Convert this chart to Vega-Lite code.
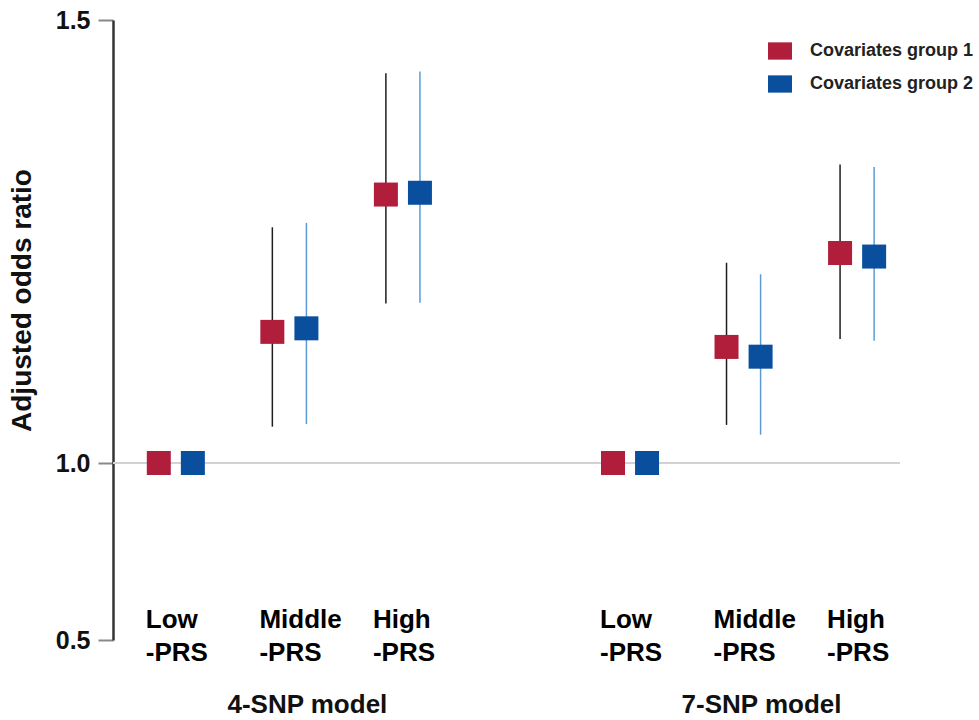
{
  "$schema": "https://vega.github.io/schema/vega-lite/v6.json",
  "width": 787,
  "height": 620,
  "autosize": {"type": "none"},
  "padding": {"left": 113, "top": 20, "right": 79, "bottom": 80},
  "background": "white",
  "config": {
    "view": {"stroke": null},
    "font": "Liberation Sans",
    "axis": {"labelFont": "Liberation Sans", "titleFont": "Liberation Sans"},
    "legend": {"labelFont": "Liberation Sans"},
    "text": {"font": "Liberation Sans"}
  },
  "data": {
    "values": [
      {"cat": "4-SNP Low", "group": "Covariates group 1", "or": 1.0, "lo": null, "hi": null},
      {"cat": "4-SNP Low", "group": "Covariates group 2", "or": 1.0, "lo": null, "hi": null},
      {"cat": "4-SNP Middle", "group": "Covariates group 1", "or": 1.148, "lo": 1.041, "hi": 1.266},
      {"cat": "4-SNP Middle", "group": "Covariates group 2", "or": 1.152, "lo": 1.044, "hi": 1.271},
      {"cat": "4-SNP High", "group": "Covariates group 1", "or": 1.303, "lo": 1.180, "hi": 1.440},
      {"cat": "4-SNP High", "group": "Covariates group 2", "or": 1.305, "lo": 1.181, "hi": 1.442},
      {"cat": "7-SNP Low", "group": "Covariates group 1", "or": 1.0, "lo": null, "hi": null},
      {"cat": "7-SNP Low", "group": "Covariates group 2", "or": 1.0, "lo": null, "hi": null},
      {"cat": "7-SNP Middle", "group": "Covariates group 1", "or": 1.131, "lo": 1.043, "hi": 1.226},
      {"cat": "7-SNP Middle", "group": "Covariates group 2", "or": 1.120, "lo": 1.032, "hi": 1.213},
      {"cat": "7-SNP High", "group": "Covariates group 1", "or": 1.237, "lo": 1.140, "hi": 1.337},
      {"cat": "7-SNP High", "group": "Covariates group 2", "or": 1.233, "lo": 1.138, "hi": 1.334}
    ]
  },
  "layer": [
    {
      "data": {"values": [{"ref": 1}]},
      "mark": {"type": "rule", "color": "#d2d2d2", "strokeWidth": 2},
      "encoding": {"y": {"field": "ref", "type": "quantitative"}}
    },
    {
      "transform": [{"filter": "datum.lo != null && datum.group == 'Covariates group 1'"}],
      "mark": {"type": "rule", "strokeWidth": 1.5, "color": "#1e1e1e"},
      "encoding": {
        "x": {
          "field": "cat", "type": "nominal", "title": null,
          "scale": {"type": "band", "domain": ["4-SNP Low", "4-SNP Middle", "4-SNP High", " ", "7-SNP Low", "7-SNP Middle", "7-SNP High"], "paddingInner": 0.4, "paddingOuter": 0.1656, "align": 0.765, "round": false}
        },
        "xOffset": {"field": "group", "type": "nominal", "scale": {"domain": ["Covariates group 1", "Covariates group 2"], "paddingInner": 0, "paddingOuter": 0}},
        "y": {"field": "lo", "type": "quantitative"},
        "y2": {"field": "hi"}
      }
    },
    {
      "transform": [{"filter": "datum.lo != null && datum.group == 'Covariates group 2'"}],
      "mark": {"type": "rule", "strokeWidth": 1.5, "color": "#5b9bd5"},
      "encoding": {
        "x": {
          "field": "cat", "type": "nominal", "title": null,
          "scale": {"type": "band", "domain": ["4-SNP Low", "4-SNP Middle", "4-SNP High", " ", "7-SNP Low", "7-SNP Middle", "7-SNP High"], "paddingInner": 0.4, "paddingOuter": 0.1656, "align": 0.765, "round": false}
        },
        "xOffset": {"field": "group", "type": "nominal", "scale": {"domain": ["Covariates group 1", "Covariates group 2"], "paddingInner": 0, "paddingOuter": 0}},
        "y": {"field": "lo", "type": "quantitative"},
        "y2": {"field": "hi"}
      }
    },
    {
      "mark": {"type": "square", "size": 576, "opacity": 1, "filled": true, "strokeWidth": 0},
      "encoding": {
        "x": {
          "field": "cat", "type": "nominal", "title": null,
          "scale": {"type": "band", "domain": ["4-SNP Low", "4-SNP Middle", "4-SNP High", " ", "7-SNP Low", "7-SNP Middle", "7-SNP High"], "paddingInner": 0.4, "paddingOuter": 0.1656, "align": 0.765, "round": false},
          "axis": {
            "title": null, "domain": false, "ticks": false, "grid": false,
            "labelAngle": 0, "labelAlign": "left", "labelBaseline": "top", "labelOffset": -30, "labelPadding": -34,
            "labelFontSize": 26, "labelFontWeight": "bold", "labelColor": "#000", "labelLineHeight": 33,
            "labelOverlap": false, "labelBound": false,
            "labelExpr": "datum.value == ' ' ? '' : [split(datum.value, ' ')[1], '-PRS']"
          }
        },
        "xOffset": {"field": "group", "type": "nominal", "scale": {"domain": ["Covariates group 1", "Covariates group 2"], "paddingInner": 0, "paddingOuter": 0}},
        "y": {
          "field": "or", "type": "quantitative",
          "scale": {"domain": [0.5, 1, 1.5], "range": [620, 443, 0], "zero": false, "nice": false},
          "axis": {
            "title": "Adjusted odds ratio", "values": [0.5, 1, 1.5], "format": ".1f", "grid": false,
            "domainColor": "#333", "domainWidth": 2.5, "tickColor": "#888", "tickWidth": 2, "tickSize": 15,
            "labelFontSize": 25, "labelFontWeight": "bold", "labelColor": "#111", "labelPadding": 8,
            "titleFontSize": 28, "titleFontWeight": "bold", "titleColor": "#111", "titlePadding": 19, "titleY": 280
          }
        },
        "color": {
          "field": "group", "type": "nominal",
          "scale": {"domain": ["Covariates group 1", "Covariates group 2"], "range": ["#b01e3c", "#0a4f9e"]},
          "legend": {
            "title": null, "orient": "none", "legendX": 655, "legendY": 19, "padding": 0,
            "symbolType": "M-1,-0.72H1V0.72H-1Z", "symbolSize": 576, "symbolStrokeWidth": 0, "symbolOpacity": 1,
            "labelFontSize": 18, "labelFontWeight": "bold", "labelColor": "#222", "labelOffset": 18, "rowPadding": 12,
            "labelLimit": 300
          }
        }
      }
    },
    {
      "data": {"values": [{"model": "4-SNP model", "cat": "4-SNP Middle"}, {"model": "7-SNP model", "cat": "7-SNP Middle"}]},
      "mark": {"type": "text", "fontSize": 26, "fontWeight": "bold", "dx": 18, "align": "center", "baseline": "middle", "color": "#111"},
      "encoding": {
        "x": {"field": "cat", "type": "nominal"},
        "y": {"datum": 0.3164, "type": "quantitative"},
        "text": {"field": "model"}
      }
    }
  ]
}
